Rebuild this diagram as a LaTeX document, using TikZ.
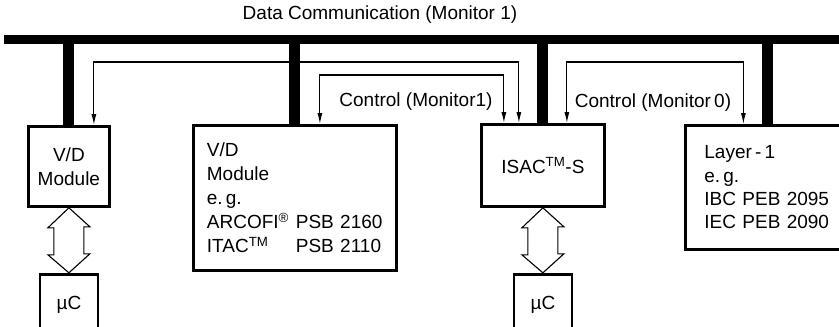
\documentclass[tikz,border=0pt]{standalone}
\usepackage{fontspec}
\setmainfont{Liberation Sans}
\usetikzlibrary{arrows.meta, positioning}

\begin{document}
\begin{tikzpicture}[x=1pt, y=-1pt,
    box/.style={draw, rectangle, line width=2.8pt, inner sep=0pt, font=\fontsize{19}{24}\selectfont},
    bus/.style={line width=9pt},
    stub/.style={line width=11pt},
    ctrl/.style={line width=1.1pt, {Latex[length=11pt,width=5pt]}-{Latex[length=11pt,width=5pt]}},
    dbl/.style={draw, line width=1.1pt, fill=white},
    lbl/.style={font=\fontsize{19}{22}\selectfont}]
    \useasboundingbox (0,0) rectangle (839,327);
    \clip (0,0) rectangle (839,327);

    % Boxes
    \node[box, anchor=north west, minimum width=81, minimum height=80, align=center] (vdA) at (27,125) {V/D\\Module};
    \node[box, anchor=north west, minimum width=203, minimum height=145, inner xsep=13.5pt, text width=176pt, align=left] (vdB) at (192,124)
        {V/D\\Module\\e.\,g.\\\makebox[89pt][l]{ARCOFI\textsuperscript{®}}\mbox{PSB 2160}\\\makebox[89pt][l]{ITAC\textsuperscript{TM}}\mbox{PSB 2110}};
    \node[box, anchor=north west, minimum width=123, minimum height=82] (isac) at (480,123) {ISAC\textsuperscript{TM}-S};
    \node[box, anchor=north west, minimum width=164, minimum height=124, inner xsep=19pt, text width=126pt, align=left, font=\fontsize{19}{23.3}\selectfont] (layer) at (684,124)
        {Layer\,-\,1\\e.\,g.\\IBC PEB 2095\\IEC PEB 2090};
    \node[box, minimum width=58, minimum height=62, below=65pt of vdA] (ucA) {µC};
    \node[box, minimum width=58, minimum height=62, below=65pt of isac] (ucB) {µC};

    % Data bus
    \coordinate (busW) at (4,39);
    \coordinate (busE) at (845,39);
    \node[lbl] (datalbl) at (380,15) {Data Communication (Monitor 1)};
    \draw[bus] (busW) -- (busE);
    \draw[stub] (vdA.north |- busW) -- (vdA.north);
    \draw[stub] (vdB.north |- busW) -- (vdB.north);
    \draw[stub] (isac.north |- busW) -- (isac.north);
    \draw[stub] (layer.north |- busW) -- (layer.north);

    % Control lines
    \draw[ctrl] ([xshift=-24pt]isac.north) -- ++(0,-61) -| ([xshift=25pt]vdA.north);
    \draw[ctrl] ([xshift=25pt]vdB.north) -- ++(0,-49) -| ([xshift=-39pt]isac.north);
    \draw[ctrl] ([xshift=24pt]isac.north) -- ++(0,-61) -| ([xshift=-24pt]layer.north);
    \node[lbl] (ctrlA) at (416,102) {Control (Monitor1)};
    \node[lbl] (ctrlB) at (653,103) {Control (Monitor\,0)};

    % Interfaces to the microcontrollers
    \draw[dbl] (vdA.south) -- ++(-21,20) -- ++(6,0) -- ++(0,27) -- ++(-6,0) -- (ucA.north)
        -- ++(21,-19) -- ++(-6,0) -- ++(0,-27) -- ++(6,0) -- cycle;
    \draw[dbl] (isac.south) -- ++(-21,20) -- ++(6,0) -- ++(0,27) -- ++(-6,0) -- (ucB.north)
        -- ++(21,-19) -- ++(-6,0) -- ++(0,-27) -- ++(6,0) -- cycle;
\end{tikzpicture}
\end{document}
